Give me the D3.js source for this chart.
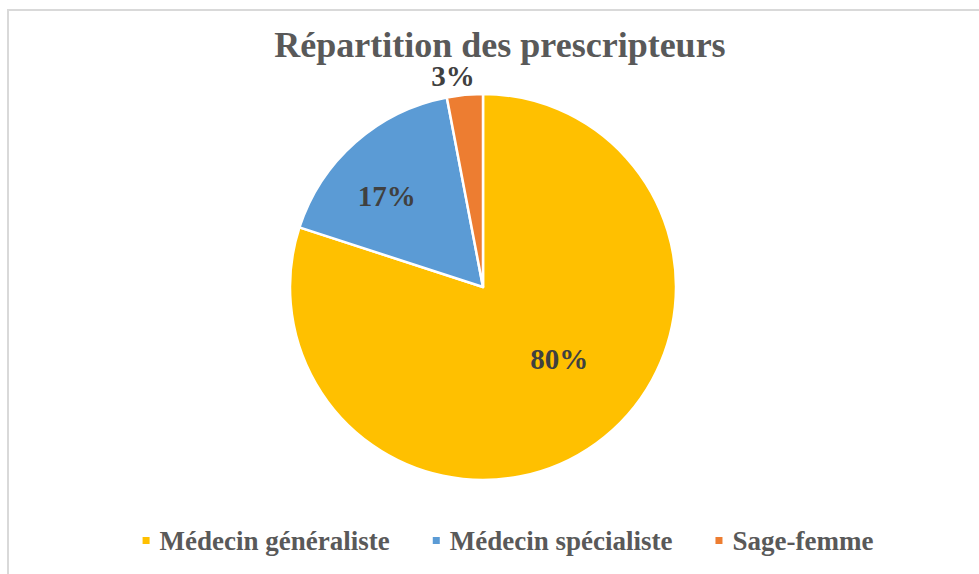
<!DOCTYPE html>
<html>
<head>
<meta charset="utf-8">
<script src="https://cdn.jsdelivr.net/npm/d3@7"></script>
<style>
  body { margin: 0; background: #fff; }
  svg { display: block; }
</style>
</head>
<body>
<svg id="chart"></svg>
<script>
// data
var categories = ['Médecin généraliste', 'Médecin spécialiste', 'Sage-femme'];
var values = [80, 17, 3];
var colors = ['#FFC000', '#5B9BD5', '#ED7D31'];
var chartTitle = 'Répartition des prescripteurs';

var config = {
  svgWidth: 979,
  svgHeight: 574,
  font: '"Liberation Serif", "Times New Roman", serif',
  titleSize: 36,
  titleX: 500,
  titleY: 57,
  cx: 483,
  cy: 287,
  radius: 193,
  sliceStroke: 2.5,
  labelSize: 29,
  innerLabelRadius: 0.62,
  outerLabelRadius: 1.1,
  smallSlice: 5,
  labelNudge: [[6, -25], [-17, -1], [-10, 0]],
  legendY: 550,
  legendSize: 27,
  legendCenter: 508,
  legendSwatch: 7,
  legendSwatchGap: 10,
  legendItemGap: 43,
}

var svg = d3.select('#chart')
  .attr('width', config.svgWidth)
  .attr('height', config.svgHeight);

// chart frame (only top and left visible in the crop)
svg.append('rect')
  .attr('x', 8)
  .attr('y', 10)
  .attr('width', config.svgWidth + 20)
  .attr('height', config.svgHeight + 20)
  .attr('fill', 'none')
  .attr('stroke', '#d9d9d9')
  .attr('stroke-width', 2);

svg.append('text')
  .attr('x', config.titleX)
  .attr('y', config.titleY)
  .attr('text-anchor', 'middle')
  .attr('font-family', config.font)
  .attr('font-weight', 'bold')
  .attr('font-size', config.titleSize + 'px')
  .attr('fill', '#595959')
  .text(chartTitle);

var pieData = d3.pie().sort(null)(values);

var arc = d3.arc()
  .innerRadius(0)
  .outerRadius(config.radius);

var g = svg.append('g')
  .attr('transform', 'translate(' + config.cx + ',' + config.cy + ')');

g.selectAll('path.slice')
  .data(pieData)
  .enter()
  .append('path')
  .attr('class', 'slice')
  .attr('d', arc)
  .attr('fill', function(d, i) { return colors[i]; })
  .attr('stroke', '#fff')
  .attr('stroke-width', config.sliceStroke)
  .attr('stroke-linejoin', 'round');

var innerArc = d3.arc()
  .innerRadius(config.radius * config.innerLabelRadius)
  .outerRadius(config.radius * config.innerLabelRadius);
var outerArc = d3.arc()
  .innerRadius(config.radius * config.outerLabelRadius)
  .outerRadius(config.radius * config.outerLabelRadius);

g.selectAll('text.label')
  .data(pieData)
  .enter()
  .append('text')
  .attr('class', 'label')
  .attr('transform', function(d, i) {
    var c = d.data < config.smallSlice ? outerArc.centroid(d) : innerArc.centroid(d);
    return 'translate(' + (c[0] + config.labelNudge[i][0]) + ',' + (c[1] + config.labelNudge[i][1]) + ')';
  })
  .attr('dy', '0.35em')
  .attr('text-anchor', 'middle')
  .attr('font-family', config.font)
  .attr('font-weight', 'bold')
  .attr('font-size', config.labelSize + 'px')
  .attr('fill', '#404040')
  .text(function(d) { return d.data + '%'; });

// legend: measure items then center the row
var legend = svg.append('g');
var items = legend.selectAll('g.item')
  .data(categories)
  .enter()
  .append('g')
  .attr('class', 'item');

items.append('rect')
  .attr('width', config.legendSwatch)
  .attr('height', config.legendSwatch)
  .attr('y', config.legendY - 13)
  .attr('fill', function(d, i) { return colors[i]; });

items.append('text')
  .attr('x', config.legendSwatch + config.legendSwatchGap)
  .attr('y', config.legendY)
  .attr('font-family', config.font)
  .attr('font-weight', 'bold')
  .attr('font-size', config.legendSize + 'px')
  .attr('fill', '#595959')
  .text(function(d) { return d; });

var widths = [];
items.each(function() {
  widths.push(config.legendSwatch + config.legendSwatchGap + d3.select(this).select('text').node().getComputedTextLength());
});
var total = d3.sum(widths) + config.legendItemGap * (widths.length - 1);
var offset = config.legendCenter - total / 2;
items.attr('transform', function(d, i) {
  var x = offset;
  offset += widths[i] + config.legendItemGap;
  return 'translate(' + x + ',0)';
});
</script>
</body>
</html>
